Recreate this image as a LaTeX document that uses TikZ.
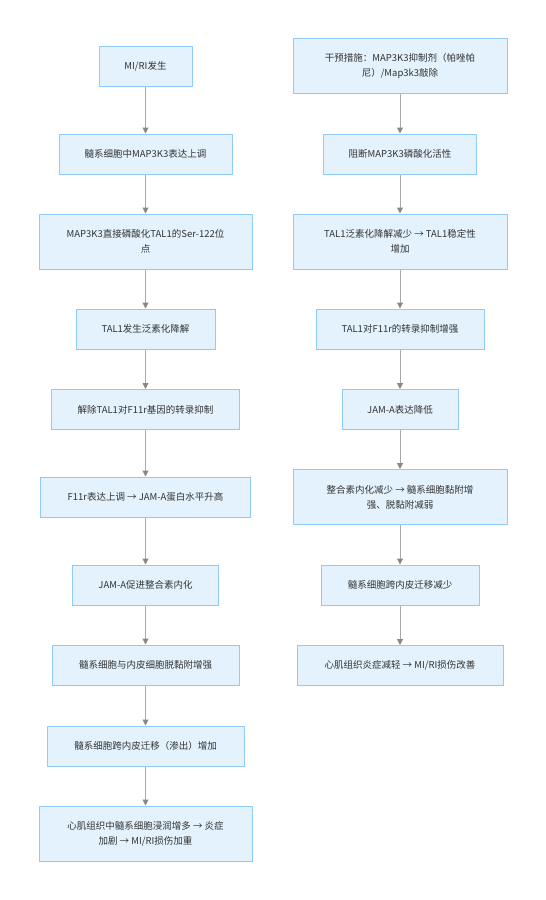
\documentclass[tikz,border=0pt]{standalone}
\usepackage{fontspec}
\setmainfont{Noto Sans CJK SC}
\usetikzlibrary{arrows.meta}
\definecolor{boxfill}{HTML}{E3F2FD}
\definecolor{boxline}{HTML}{90CAF9}
\definecolor{txt}{HTML}{333333}
\definecolor{edge}{HTML}{AAAAAA}
\definecolor{tip}{HTML}{888888}
\newcommand{\fs}{\fontsize{9.5}{15}\selectfont}

\begin{document}
\begin{tikzpicture}[
  x=1pt, y=-1pt,
  >={Triangle[length=6pt, width=6pt, fill=tip, color=tip]},
  box/.style={draw=boxline, fill=boxfill, line width=1pt, text=txt, font=\fs, align=center,
              inner sep=0pt, minimum width=#1, minimum height=40},
  tall/.style={minimum height=55},
  flow/.style={->, draw=edge, line width=1pt},
]
  \useasboundingbox (0,0) rectangle (546,900);

  % ---------------- pathway (left)
  \node[box=93] (mi) at (145.5,66) {MI/RI发生};
  \node[box=173] (up) at (145.5,154) {髓系细胞中MAP3K3表达上调};
  \node[box=213, tall] (phos) at (145.5,241.5) {MAP3K3直接磷酸化TAL1的Ser-122位\\点};
  \node[box=139] (ubi) at (145.5,329) {TAL1发生泛素化降解};
  \node[box=188] (rel) at (145.5,409.5) {解除TAL1对F11r基因的转录抑制};
  \node[box=210] (jam) at (145.5,497) {F11r表达上调 → JAM-A蛋白水平升高};
  \node[box=146] (intg) at (145.5,585) {JAM-A促进整合素内化};
  \node[box=187] (adh) at (145.5,665) {髓系细胞与内皮细胞脱黏附增强};
  \node[box=197] (mig) at (145.5,746) {髓系细胞跨内皮迁移（渗出）增加};
  \node[box=213, tall] (inj) at (145.5,833.5) {心肌组织中髓系细胞浸润增多 → 炎症\\加剧 → MI/RI损伤加重};

  % ---------------- intervention (right)
  \node[box=214, tall] (ivt) at (400,66) {干预措施：MAP3K3抑制剂（帕唑帕\\尼）/Map3k3敲除};
  \node[box=153] (blk) at (400,154) {阻断MAP3K3磷酸化活性};
  \node[box=214, tall] (stab) at (400,241.5) {TAL1泛素化降解减少 → TAL1稳定性\\增加};
  \node[box=168] (rep) at (400,329) {TAL1对F11r的转录抑制增强};
  \node[box=116] (low) at (400,409.5) {JAM-A表达降低};
  \node[box=214, tall] (less) at (400,497) {整合素内化减少 → 髓系细胞黏附增\\强、脱黏附减弱};
  \node[box=158] (dmig) at (400,585) {髓系细胞跨内皮迁移减少};
  \node[box=206] (ok) at (400,665.5) {心肌组织炎症减轻 → MI/RI损伤改善};

  \foreach \a/\b in {mi/up, up/phos, phos/ubi, ubi/rel, rel/jam, jam/intg, intg/adh, adh/mig, mig/inj,
                     ivt/blk, blk/stab, stab/rep, rep/low, low/less, less/dmig, dmig/ok}
    \draw[flow] (\a) -- (\b);
\end{tikzpicture}
\end{document}
